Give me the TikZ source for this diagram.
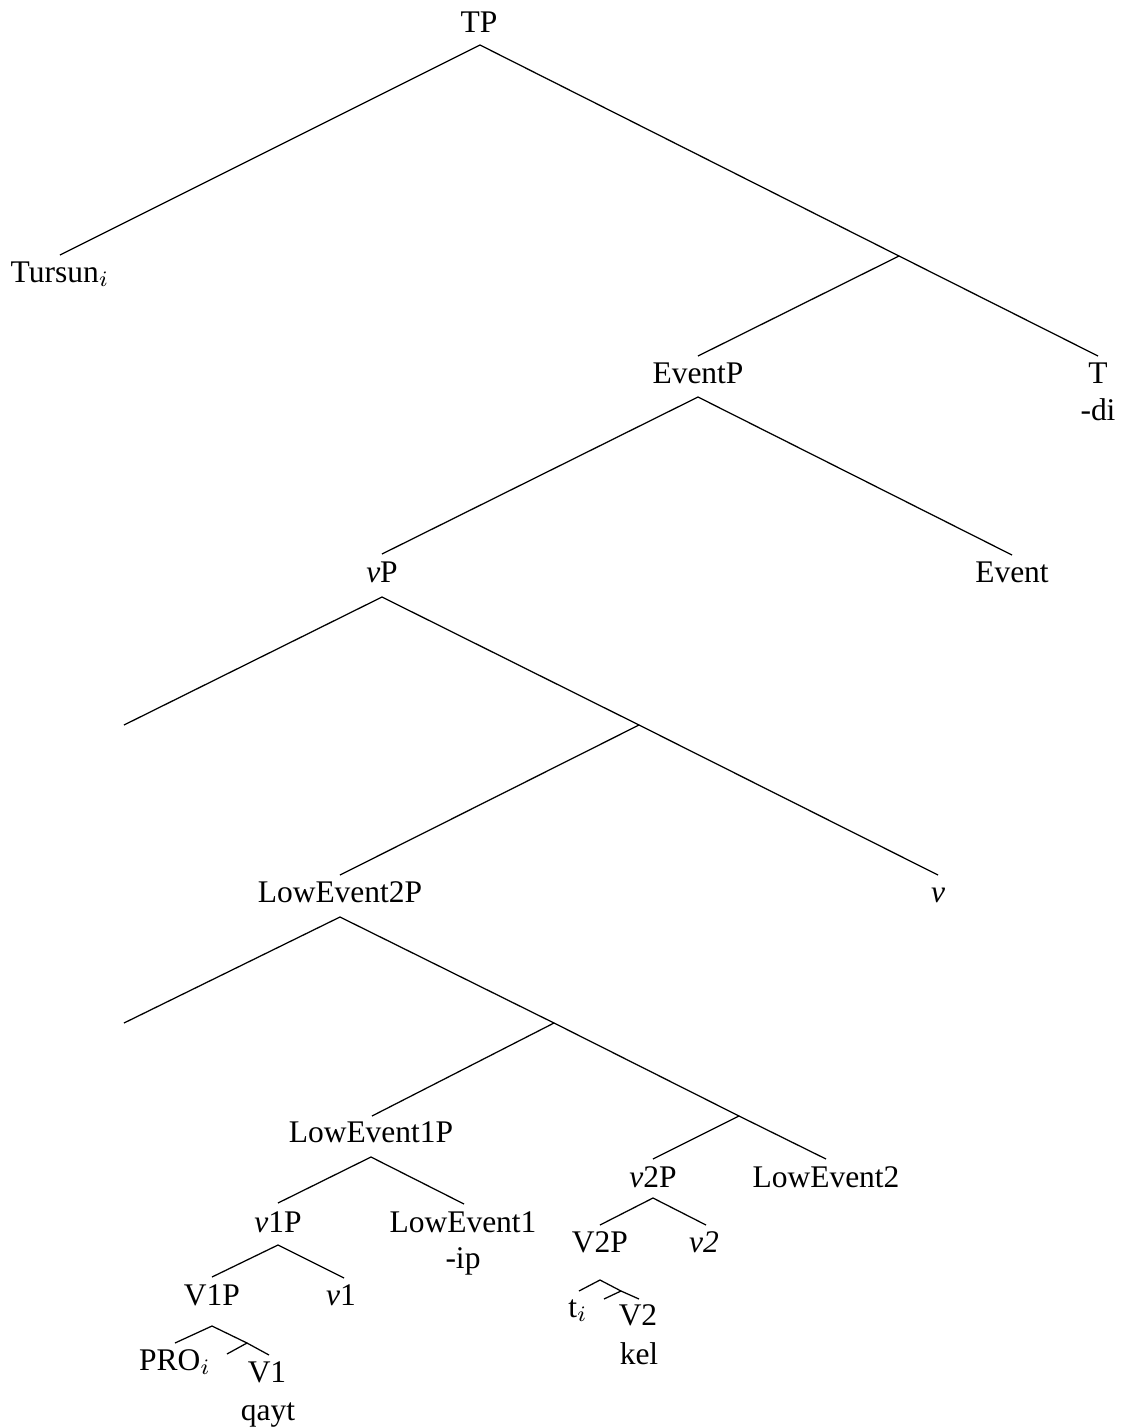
\documentclass[tikz,border=0pt]{standalone}
\usepackage{fontspec}
\setmainfont{Liberation Serif}
\begin{document}
\begin{tikzpicture}[x=0.3175pt,y=-0.3175pt,
  lbl/.style={anchor=base,inner sep=0pt,font=\fontsize{10}{12}\selectfont},
  edge/.style={line width=0.4pt}]
\useasboundingbox (0,0) rectangle (1126,1427);
% labels
\node[lbl] (tp) at (479,32) {TP};
\node[lbl] (tursun) at (60,282) {Tursun$_i$};
\node[lbl] (eventp) at (698,383) {EventP};
\node[lbl] (t) at (1098,383) {T};
\node[lbl] (di) at (1098,420) {-di};
\node[lbl] (vp) at (382,582) {\textit{v}P};
\node[lbl] (event) at (1012,582) {Event};
\node[lbl] (le2p) at (340,902) {LowEvent2P};
\node[lbl] (v) at (938,902) {\textit{v}};
\node[lbl] (le1p) at (371,1142) {LowEvent1P};
\node[lbl] (v2p) at (653,1187) {\textit{v}2P};
\node[lbl] (le2) at (826,1187) {LowEvent2};
\node[lbl] (v1p) at (278,1232) {\textit{v}1P};
\node[lbl] (le1) at (463,1232) {LowEvent1};
\node[lbl] (ip) at (463,1268) {-ip};
\node[lbl] (V2p) at (600,1252) {V2P};
\node[lbl] (v2) at (704,1252) {\textit{v2}};
\node[lbl] (V1p) at (212,1305) {V1P};
\node[lbl] (v1) at (341,1305) {\textit{v}1};
\node[lbl] (ti) at (578,1317) {t$_i$};
\node[lbl] (V2) at (638,1325) {V2};
\node[lbl] (kel) at (639,1364) {kel};
\node[lbl] (pro) at (175,1370) {PRO$_i$};
\node[lbl] (V1) at (267,1382) {V1};
\node[lbl] (qayt) at (268,1420) {qayt};
% edge end points
\coordinate (tpB) at (480,45);
\coordinate (tursunT) at (60,255);
\coordinate (tbar) at (899,256);
\coordinate (eventpT) at (698,356);
\coordinate (eventpB) at (698,397);
\coordinate (tT) at (1098,356);
\coordinate (vpT) at (382,554);
\coordinate (vpB) at (382,597);
\coordinate (eventT) at (1012,555);
\coordinate (vpspec) at (124,725);
\coordinate (vbar) at (639,725);
\coordinate (le2pT) at (340,875);
\coordinate (le2pB) at (340,917);
\coordinate (vT) at (938,875);
\coordinate (le2spec) at (124,1023);
\coordinate (le2bar) at (554,1023);
\coordinate (le1pT) at (372,1116);
\coordinate (le1pB) at (371,1157);
\coordinate (le2barb) at (739,1116);
\coordinate (v2pT) at (653,1159);
\coordinate (v2pB) at (653,1198);
\coordinate (le2T) at (826,1159);
\coordinate (v1pT) at (278,1203);
\coordinate (v1pB) at (278,1245);
\coordinate (le1T) at (464,1204);
\coordinate (V2pT) at (600,1225);
\coordinate (V2pB) at (600,1280);
\coordinate (v2T) at (706,1225);
\coordinate (V1pT) at (212,1277);
\coordinate (V1pB) at (212,1326);
\coordinate (v1T) at (344,1278);
\coordinate (tiT) at (579,1291);
\coordinate (V2bar) at (621,1291);
\coordinate (V2spec) at (604,1299);
\coordinate (V2T) at (639,1299);
\coordinate (proT) at (175,1343);
\coordinate (V1bar) at (247,1343);
\coordinate (V1spec) at (227,1354);
\coordinate (V1T) at (269,1355);
% edges
\draw[edge] (tursunT) -- (tpB) -- (tbar);
\draw[edge] (eventpT) -- (tbar) -- (tT);
\draw[edge] (vpT) -- (eventpB) -- (eventT);
\draw[edge] (vpspec) -- (vpB) -- (vbar);
\draw[edge] (le2pT) -- (vbar) -- (vT);
\draw[edge] (le2spec) -- (le2pB) -- (le2bar);
\draw[edge] (le1pT) -- (le2bar) -- (le2barb);
\draw[edge] (v2pT) -- (le2barb) -- (le2T);
\draw[edge] (v1pT) -- (le1pB) -- (le1T);
\draw[edge] (V1pT) -- (v1pB) -- (v1T);
\draw[edge] (proT) -- (V1pB) -- (V1bar);
\draw[edge] (V1spec) -- (V1bar) -- (V1T);
\draw[edge] (V2pT) -- (v2pB) -- (v2T);
\draw[edge] (tiT) -- (V2pB) -- (V2bar);
\draw[edge] (V2spec) -- (V2bar) -- (V2T);
\end{tikzpicture}
\end{document}
